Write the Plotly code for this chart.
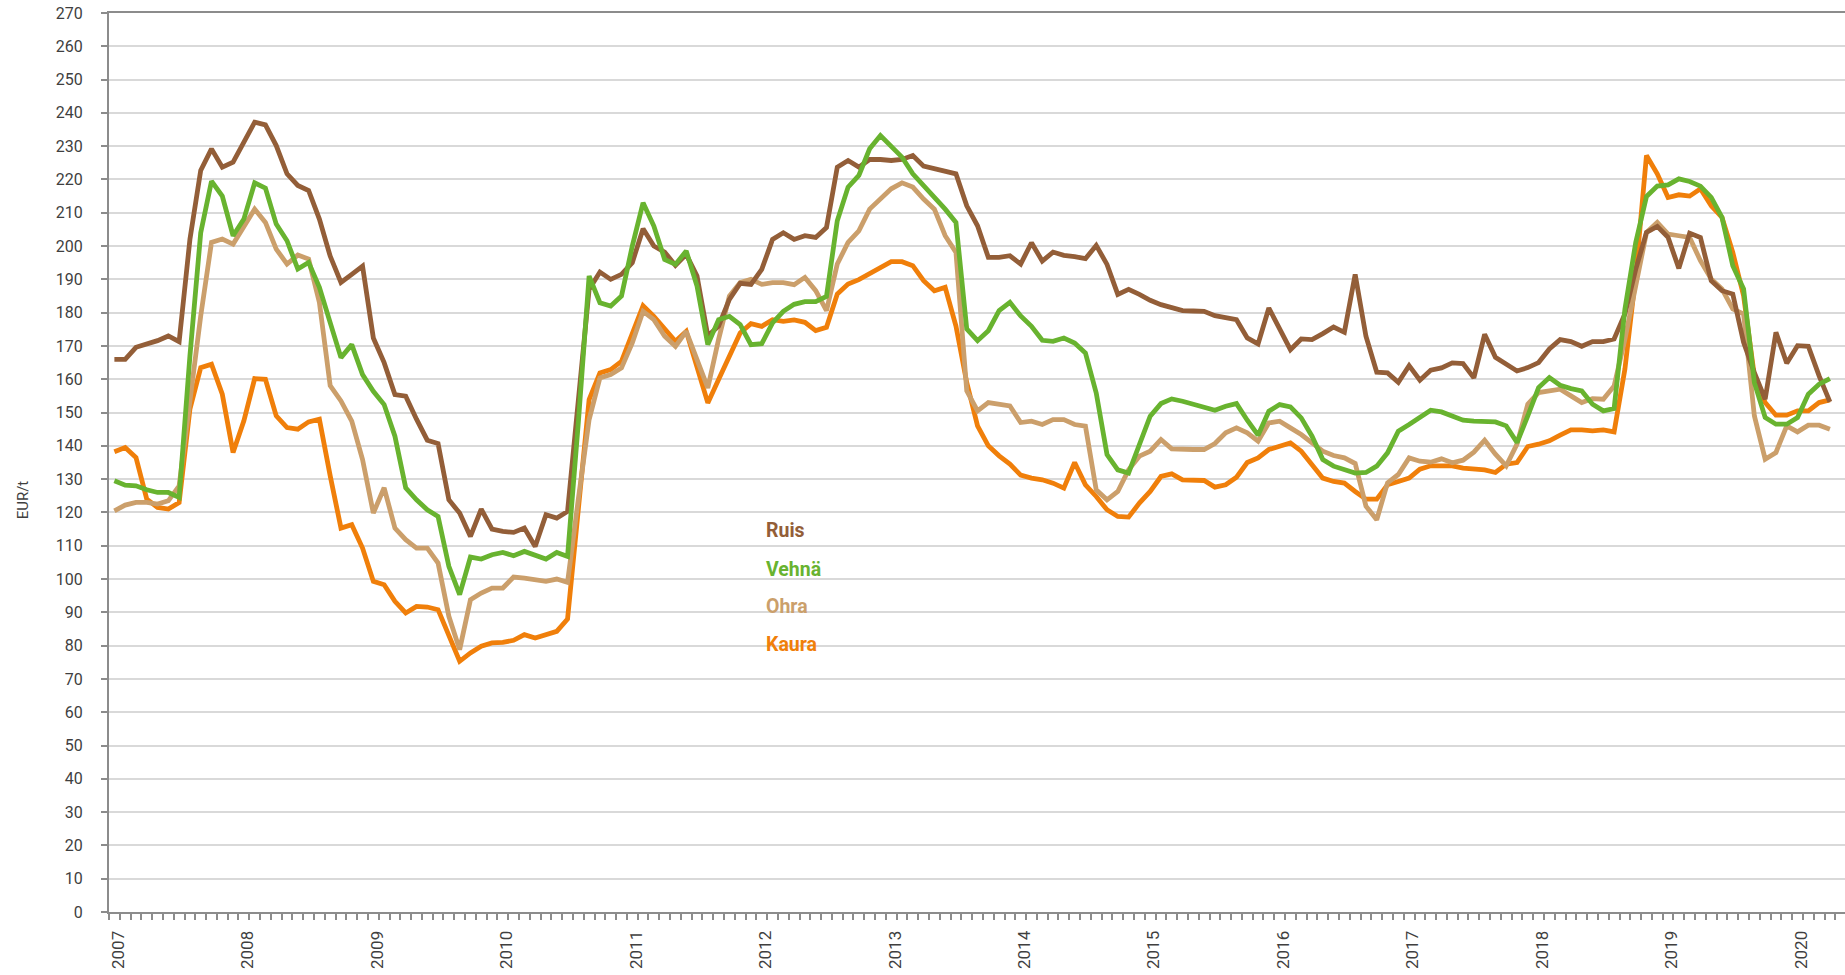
import plotly.graph_objects as go

years = [str(y) for y in range(2007, 2021)]

ruis = [166, 166, 169.6, 170.6, 171.6, 173, 171.3, 202, 222.7, 229.2, 223.7, 225.2,
        231.2, 237.2, 236.4, 230.2, 221.7, 218.2, 216.7, 208.1, 197, 189.1, 191.5, 194,
        172.4, 165, 155.4, 154.9, 148, 141.7, 140.7, 123.8, 119.8, 112.8, 121, 115,
        114.3, 114, 115.3, 109.8, 119.3, 118.3, 120.3, 155, 187, 192.2, 190, 191.5,
        195, 205.2, 200, 198.2, 194.2, 197.5, 191, 173, 176, 184, 188.8, 188.5,
        193, 202, 204, 202, 203.1, 202.6, 205.6, 223.7, 225.7, 223.7, 226, 226,
        225.7, 226, 227.2, 224, 223.2, 222.2, 221.7, 212.1, 206.1, 196.6, 196.6, 197.1,
        194.6, 201, 195.5, 198.2, 197.2, 196.8, 196.2, 200.2, 194.5, 185.5, 187, 185.5,
        183.7, 182.4, 181.4, 180.6, 180.5, 180.4, 179.1, 178.4, 177.9, 172.4, 170.6, 181.4,
        174.9, 168.9, 172.1, 171.9, 173.7, 175.7, 174.1, 191.5, 172.9, 162.1, 161.9, 159.1,
        164.1, 159.7, 162.7, 163.4, 164.9, 164.7, 160.4, 173.5, 166.6, 164.6, 162.5, 163.5,
        165, 169.1, 171.9, 171.3, 169.9, 171.3, 171.3, 172.1, 179.6, 193, 204.1, 205.9,
        202.6, 193.3, 203.9, 202.6, 189.6, 186.6, 185.6, 171.1, 162, 154, 174.1, 164.8,
        170.1, 169.9, 161, 153.2]

vehna = [129.5, 128.2, 128, 126.8, 126, 126, 124.5, 167, 204, 219.5, 215, 203.1,
         208.1, 219, 217.4, 206.6, 201.6, 193.1, 195.1, 187.6, 177, 166.5, 170.4, 161.4,
         156.4, 152.4, 142.9, 127.4, 123.8, 120.8, 118.8, 103.8, 95.3, 106.6, 106, 107.3,
         108, 107, 108.3, 107.3, 106, 108, 106.8, 147, 191, 183, 182, 185,
         200, 213, 206, 196, 194.5, 198.5, 188, 170.4, 177.9, 178.9, 176.4, 170.4,
         170.7, 176.9, 180.4, 182.5, 183.3, 183.3, 184.9, 207.6, 217.7, 221.2, 229.2, 233.2,
         229.7, 226.7, 221.7, 218.2, 214.6, 211.1, 207.1, 175.1, 171.6, 174.6, 180.6, 183.1,
         179, 175.9, 171.7, 171.4, 172.4, 170.9, 167.9, 155.9, 137.4, 132.8, 131.8, 139.9,
         148.9, 152.7, 154.1, 153.4, 152.4, 151.4, 150.7, 151.9, 152.7, 147.7, 143.2, 150.4,
         152.4, 151.7, 148.4, 142.9, 135.9, 133.9, 132.8, 131.8, 132, 133.9, 137.9, 144.4,
         146.4, 148.4, 150.7, 150.2, 149.1, 147.7, 147.4, 147.2, 147.2, 146, 141, 149,
         157.5, 160.5, 158.2, 157.2, 156.5, 152.5, 150.5, 151.2, 181, 201, 214.9, 218,
         218.4, 220.2, 219.4, 218, 214.6, 208.6, 194.1, 187.1, 159, 148.5, 146.5, 146.5,
         148.5, 155.5, 158.5, 160.2]

ohra = [120.5, 122.2, 123, 123, 122.5, 123.5, 128, 154, 179, 201.1, 202.1, 200.6,
        205.6, 211.1, 207.1, 199.1, 194.6, 197.3, 196.1, 183.1, 158.1, 153.5, 147.4, 135.9,
        119.8, 127.4, 115.3, 111.8, 109.3, 109.3, 104.8, 88.8, 78.8, 93.8, 95.8, 97.3,
        97.3, 100.6, 100.3, 99.8, 99.3, 100, 99, 124, 147.9, 160.4, 161.4, 163.4,
        170.9, 180.4, 177.9, 172.9, 169.9, 174.4, 165.4, 157.4, 172, 185, 189, 190,
        188.5, 189, 189, 188.4, 190.6, 186.6, 180.6, 194.6, 201.1, 204.6, 211.1, 214.1,
        217.2, 219, 217.7, 214.1, 211.1, 203.1, 198.1, 156.5, 150.5, 153, 152.5, 152,
        147, 147.4, 146.4, 147.9, 147.9, 146.4, 145.9, 126.8, 123.8, 126.3, 132.8, 136.9,
        138.4, 141.9, 139.1, 138.9, 138.9, 138.9, 140.7, 143.9, 145.4, 143.9, 141.4, 146.9,
        147.4, 145.4, 143.4, 140.9, 138.4, 137.1, 136.4, 134.7, 121.9, 117.8, 128.9, 131.4,
        136.4, 135.4, 135.1, 136.1, 134.9, 135.7, 138.1, 141.7, 137.5, 134, 140.5, 152.5,
        156, 156.5, 157, 155, 153, 154.2, 154, 158, 172, 188, 204.1, 207.1,
        203.6, 203.1, 202.6, 195.6, 190.1, 187.1, 181.1, 179.6, 149, 136, 138, 146,
        144.2, 146.2, 146.2, 145]

kaura = [138.2, 139.5, 136.5, 124, 121.5, 121, 123, 151, 163.5, 164.5, 155.5, 138,
         147.5, 160.2, 160, 149, 145.5, 145, 147.2, 148, 131, 115.3, 116.3, 109.3,
         99.3, 98.3, 93.3, 89.8, 91.8, 91.6, 90.8, 82.8, 75.3, 77.8, 79.8, 80.8,
         81, 81.6, 83.3, 82.3, 83.3, 84.3, 88, 121, 153.9, 161.9, 162.9, 165.4,
         173.9, 182.1, 178.9, 174.9, 171.4, 174.4, 163.9, 152.9, 159.9, 166.9, 173.9, 176.7,
         175.9, 177.9, 177.4, 177.8, 177.1, 174.6, 175.6, 185.6, 188.6, 189.9, 191.6, 193.6,
         195.3, 195.3, 194.1, 189.6, 186.6, 187.6, 176, 159, 146, 140, 137, 134.5,
         131.2, 130.3, 129.8, 128.8, 127.3, 135, 128.3, 124.8, 120.8, 118.8, 118.6, 122.8,
         126.3, 130.8, 131.6, 129.8, 129.7, 129.6, 127.6, 128.3, 130.6, 135, 136.4, 138.9,
         139.9, 140.9, 138.4, 134.4, 130.3, 129.3, 128.8, 126.3, 124, 124, 128.3, 129.3,
         130.3, 133, 134, 134, 134, 133.3, 133, 132.8, 132, 134.5, 135, 139.8,
         140.5, 141.5, 143.2, 144.8, 144.8, 144.5, 144.8, 144.2, 163, 191, 227.2, 221.7,
         214.6, 215.4, 215, 217.2, 212.1, 208.6, 198.1, 185.1, 161, 153, 149.2, 149.2,
         150.5, 150.5, 153, 153.8]

names = ["Ruis", "Vehnä", "Ohra", "Kaura"]
colors = {"Ruis": "#935E38", "Vehnä": "#68B32F", "Ohra": "#CB9F6B", "Kaura": "#F07F0A"}
series = {"Ruis": ruis, "Vehnä": vehna, "Ohra": ohra, "Kaura": kaura}

FONT = "Roboto, 'Open Sans', sans-serif"
AXIS_COL = "#8c8c8c"
GRID_COL = "#d9d9d9"
TXT_COL = "#3f3f3f"

fig = go.Figure()
for nm in ["Kaura", "Ohra", "Ruis", "Vehnä"]:
    vals = series[nm]
    fig.add_trace(go.Scatter(x=list(range(len(vals))), y=vals, mode="lines", name=nm,
                             line=dict(color=colors[nm], width=4.8), showlegend=False,
                             hoverinfo="x+y"))

fig.update_layout(
    width=1845, height=975,
    margin=dict(l=109, r=0, t=13, b=63, autoexpand=False),
    plot_bgcolor="white", paper_bgcolor="white",
    font=dict(family=FONT, size=16, color=TXT_COL),
)

fig.update_xaxes(
    range=[-0.5, 160.4],
    tickmode="array",
    tickvals=[12 * k + 0.35 for k in range(len(years))],
    ticktext=years,
    tickangle=-90,
    ticks="",
    ticklabelstandoff=10,
    tickfont=dict(size=17, color=TXT_COL),
    showgrid=False, zeroline=False,
    showline=True, linecolor=AXIS_COL, linewidth=2, mirror=True,
    minor=dict(tick0=-0.5, dtick=1, ticks="outside", ticklen=6,
               tickwidth=2, tickcolor=AXIS_COL, showgrid=False),
    automargin=False,
)
fig.update_yaxes(
    range=[0, 270], dtick=10, tick0=0,
    ticks="outside", ticklen=6, tickwidth=2, tickcolor=AXIS_COL,
    ticklabelstandoff=15,
    tickfont=dict(size=16, color=TXT_COL),
    showgrid=True, gridcolor=GRID_COL, gridwidth=2,
    zeroline=False,
    showline=True, linecolor=AXIS_COL, linewidth=2,
    automargin=False,
)

# axis title
fig.add_annotation(text="EUR/t", xref="paper", yref="paper", x=-0.0495, y=0.458,
                   textangle=-90, showarrow=False, xanchor="center", yanchor="middle",
                   font=dict(size=15, color=TXT_COL, family=FONT))

# in-plot legend text
leg_y = [0.4246, 0.3815, 0.3396, 0.2978]
for nm, yy in zip(names, leg_y):
    fig.add_annotation(text="<b>%s</b>" % nm, xref="paper", yref="paper", x=0.3772, y=yy,
                       xanchor="left", yanchor="middle", showarrow=False,
                       font=dict(size=19.5, color=colors[nm], family=FONT))

fig.write_html("out.html", config={"displayModeBar": False},
               post_script="document.body.style.margin='0';")
